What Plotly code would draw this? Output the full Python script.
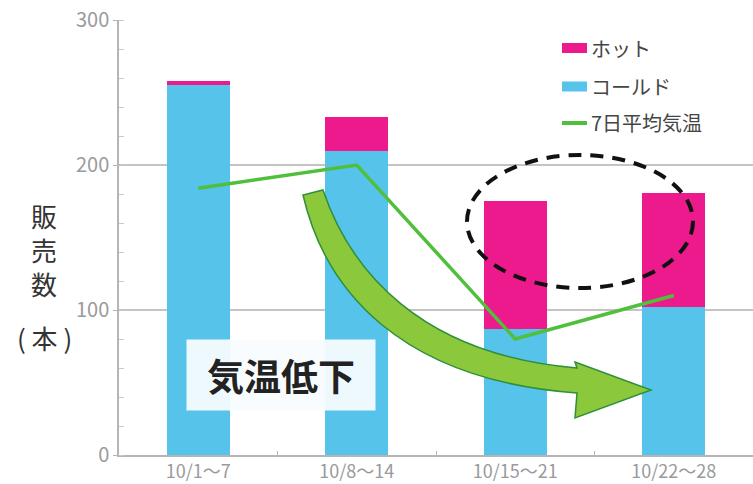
import plotly.graph_objects as go

# Weekly sales (bottles) and 7-day mean temperature
weeks = ["10/1～7", "10/8～14", "10/15～21", "10/22～28"]
cold_sales = [255, 210, 87, 102]
hot_sales = [3, 23, 88, 79]
avg_temp = [19.2, 20.0, 14.0, 15.5]

series_names = ["ホット", "コールド", "7日平均気温"]
y_ticks = [0, 100, 200, 300]
y_title_chars = ["販", "売", "数", "( 本 )"]

HOT = "#EC1A8C"
COLD = "#56C3EA"
LINE = "#50BF3C"
FONT = "Noto Sans CJK JP"

# plot-area geometry (pixels) used to place decorations in paper space
W_FIG, H_FIG = 753, 484
L, T, R, B = 119, 20, 0, 29
PW, PH = W_FIG - L - R, H_FIG - T - B


def px(x):
    return (x - L) / PW


def py(y):
    return (T + PH - y) / PH


fig = go.Figure()
fig.add_trace(go.Bar(x=weeks, y=cold_sales, name=series_names[1],
                     marker=dict(color=COLD, line=dict(width=0))))
fig.add_trace(go.Bar(x=weeks, y=hot_sales, name=series_names[0],
                     marker=dict(color=HOT, line=dict(width=0))))
fig.add_trace(go.Scatter(x=weeks, y=avg_temp, name=series_names[2], yaxis="y2",
                         mode="lines", line=dict(color=LINE, width=3.5)))

shapes = []
annotations = []


def pt(x, y):
    return f"{px(x):.5f},{py(y):.5f}"


# curved "temperature drop" arrow
arrow_path = (
    f"M{pt(303,195)} C{pt(325,290)} {pt(400,380)} {pt(577,393)} "
    f"L{pt(575,418)} L{pt(651,390)} L{pt(575,362)} L{pt(577,368)} "
    f"C{pt(420,355)} {pt(350,270)} {pt(323,190)} Z"
)
shapes.append(dict(type="path", xref="paper", yref="paper", path=arrow_path,
                   fillcolor="#8CC83C", line=dict(color="#2F8F3A", width=1.5),
                   layer="above"))

# dashed ellipse around the hot-drink growth
shapes.append(dict(type="circle", xref="paper", yref="paper",
                   x0=px(467), x1=px(693), y0=py(288), y1=py(155),
                   line=dict(color="#111111", width=4, dash="13px,9px"),
                   layer="above"))

# legend
leg_font = dict(family=FONT, size=20, color="#454545")
leg_y = [48, 86.5, 123]
for name, col, yc in zip(series_names[:2], [HOT, COLD], leg_y[:2]):
    shapes.append(dict(type="rect", xref="paper", yref="paper",
                       x0=px(562), x1=px(587), y0=py(yc + 5), y1=py(yc - 5),
                       fillcolor=col, line=dict(width=0), layer="above"))
    annotations.append(dict(xref="paper", yref="paper", x=px(589), y=py(yc),
                            text=name, showarrow=False, xanchor="left",
                            yanchor="middle", font=leg_font))
shapes.append(dict(type="line", xref="paper", yref="paper",
                   x0=px(562), x1=px(587), y0=py(leg_y[2]), y1=py(leg_y[2]),
                   line=dict(color=LINE, width=4), layer="above"))
annotations.append(dict(xref="paper", yref="paper", x=px(589), y=py(leg_y[2]),
                        text=series_names[2], showarrow=False, xanchor="left",
                        yanchor="middle", font=leg_font))

# label box
annotations.append(dict(xref="paper", yref="paper", x=px(281), y=py(375),
                        text="<b>気温低下</b>", showarrow=False,
                        xanchor="center", yanchor="middle",
                        width=178, height=60, borderpad=5,
                        bgcolor="rgba(248,252,255,0.94)",
                        font=dict(family=FONT, size=37, color="#222222")))

# vertical y-axis title, one glyph per row
for ch, yc in zip(y_title_chars, [215, 249, 283, 337]):
    annotations.append(dict(xref="paper", yref="paper", x=px(44), y=py(yc),
                            text=ch, showarrow=False,
                            xanchor="center", yanchor="middle",
                            font=dict(family=FONT, size=26, color="#333333")))

fig.update_layout(
    width=W_FIG, height=H_FIG,
    margin=dict(l=L, r=R, t=T, b=B, pad=0),
    barmode="stack", bargap=0.6,
    plot_bgcolor="white", paper_bgcolor="white",
    showlegend=False,
    font=dict(family=FONT),
    xaxis=dict(
        type="category", range=[-0.5, 3.5], automargin=False,
        showline=True, linecolor="#B5B5B5", linewidth=1.5,
        tickson="boundaries", ticks="inside", ticklen=4, tickcolor="#B5B5B5",
        tickfont=dict(family=FONT, size=18, color="#9A9A9A"),
        showgrid=False,
    ),
    yaxis=dict(
        range=[0, 300], tickvals=y_ticks, automargin=False,
        showline=True, linecolor="#B5B5B5", linewidth=1.5,
        ticks="outside", ticklen=4, tickcolor="#B5B5B5",
        minor=dict(dtick=20, ticks="inside", ticklen=5, tickcolor="#C8C8C8",
                   showgrid=False),
        gridcolor="#C4C4C4", gridwidth=1.5,
        tickfont=dict(family=FONT, size=20, color="#9A9A9A"),
        zeroline=False,
    ),
    yaxis2=dict(range=[10, 25], overlaying="y", visible=False),
    shapes=shapes,
    annotations=annotations,
)

fig.write_html("out.html")
